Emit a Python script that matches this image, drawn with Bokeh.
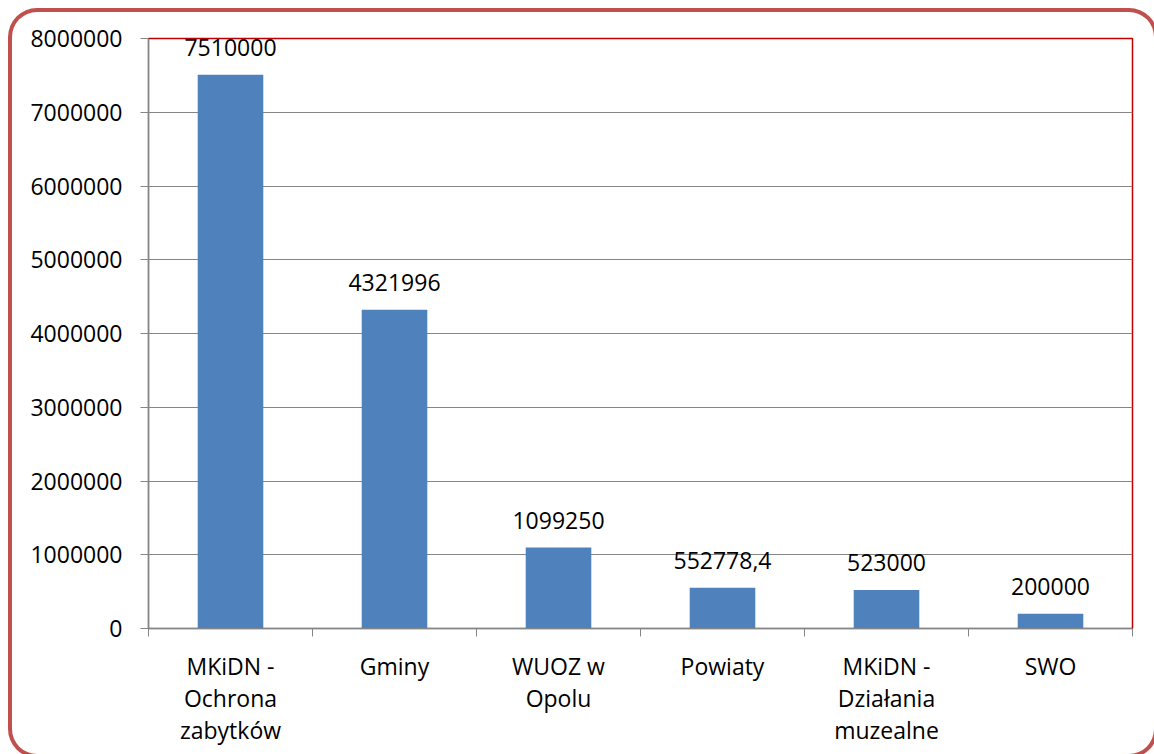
from bokeh.plotting import figure
from bokeh.models import Range1d, FixedTicker, NumeralTickFormatter, ColumnDataSource
from bokeh.embed import file_html
from bokeh.resources import INLINE
from bokeh.core.properties import value

# ---- data ----
categories = ["MKiDN -\nOchrona\nzabytków", "Gminy", "WUOZ w\nOpolu", "Powiaty",
              "MKiDN -\nDziałania\nmuzealne", "SWO"]
amounts = [7510000, 4321996, 1099250, 552778.4, 523000, 200000]
y_ticks = [0, 1000000, 2000000, 3000000, 4000000, 5000000, 6000000, 7000000, 8000000]

FONT = "Open Sans"
FS = "23px"

centers = [i + 0.5 for i in range(len(categories))]
labels = [(f"{v:.1f}".replace(".", ",") if v % 1 else f"{int(v)}") for v in amounts]

OFF = 12                               # page offset of the chart box (inside its border)
W, H = 1154 - OFF, 754 - OFF
FL, FT, FR, FB = 148, 38, 1132, 628    # frame edges on the page
p = figure(width=W, height=H, output_backend="svg", toolbar_location=None,
           x_range=Range1d(0, len(categories)), y_range=Range1d(0, 8000000))
p.margin = (OFF, 0, 0, OFF)
p.styles = {"box-shadow": "0 0 0 4px #C0504D", "border-radius": "25px",
            "overflow": "hidden"}
p.min_border_left = FL - OFF
p.min_border_top = FT - OFF
p.min_border_right = W - (FR - OFF)
p.min_border_bottom = H - (FB - OFF)
p.background_fill_color = "white"
p.border_fill_color = None
p.outline_line_color = "#C00000"
p.outline_line_width = 1.5

src = ColumnDataSource(dict(x=centers, top=amounts, lab=labels))
p.vbar(x="x", top="top", width=0.4, bottom=0, source=src,
       fill_color="#4F81BD", line_color=None)
p.text(x="x", y="top", text="lab", source=src, text_align="center",
       text_baseline="alphabetic", y_offset=-27, text_font=value(FONT),
       text_font_size=FS, text_color="black")

# y axis
ya = p.yaxis[0]
ya.ticker = FixedTicker(ticks=y_ticks)
ya.formatter = NumeralTickFormatter(format="0")
ya.axis_line_color = "#868686"
ya.major_tick_line_color = "#868686"
ya.major_tick_in = 0
ya.major_tick_out = 8
ya.minor_tick_line_color = None
ya.major_label_text_font = FONT
ya.major_label_text_font_size = FS
ya.major_label_text_color = "black"
ya.major_label_standoff = 18

# x axis: ticks between categories, labels at centers
xa = p.xaxis[0]
xa.ticker = FixedTicker(ticks=centers, minor_ticks=list(range(len(categories) + 1)))
xa.major_label_overrides = {c: lab for c, lab in zip(centers, categories)}
xa.axis_line_color = "#868686"
xa.major_tick_line_color = None
xa.minor_tick_line_color = "#868686"
xa.minor_tick_in = 0
xa.minor_tick_out = 8
xa.major_label_text_font = FONT
xa.major_label_text_font_size = FS
xa.major_label_text_color = "black"
xa.major_label_text_line_height = 1.0
xa.major_label_standoff = 13

p.xgrid.grid_line_color = None
p.ygrid.ticker = FixedTicker(ticks=y_ticks)
p.ygrid.grid_line_color = "#868686"

open("out.html", "w").write(file_html(p, INLINE))
